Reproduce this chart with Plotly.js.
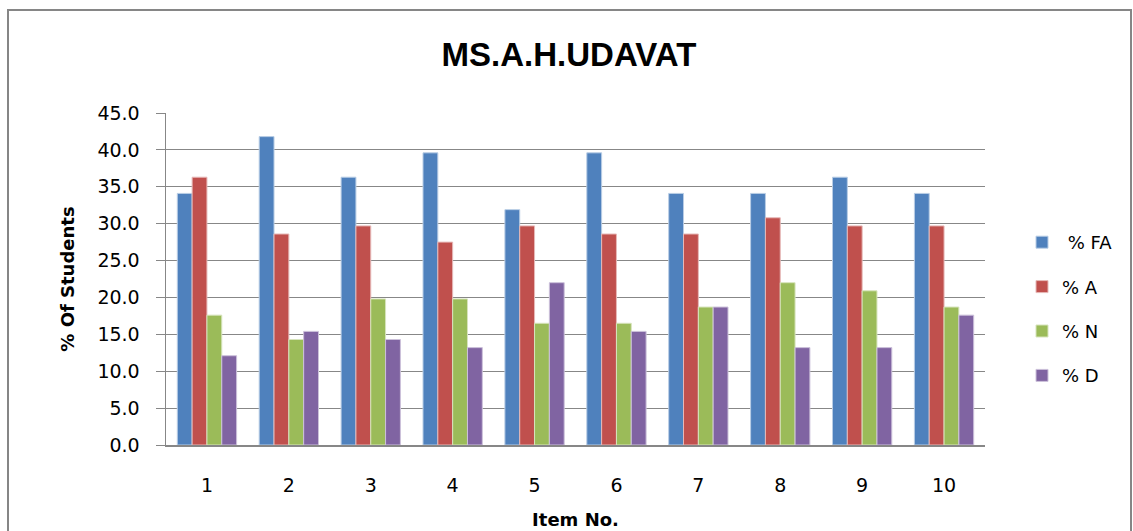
<!DOCTYPE html>
<html>
<head>
<meta charset="utf-8">
<script src="https://cdn.plot.ly/plotly-3.0.1.min.js"></script>
<style>
  html, body { margin: 0; padding: 0; background: #ffffff; }
  #chart { width: 1133px; height: 531px; }
</style>
</head>
<body>
<div id="chart"></div>
<script>
const items = ['1', '2', '3', '4', '5', '6', '7', '8', '9', '10'];
const pctFA = [34.1, 41.8, 36.3, 39.6, 31.9, 39.6, 34.1, 34.1, 36.3, 34.1];
const pctA  = [36.3, 28.6, 29.7, 27.5, 29.7, 28.6, 28.6, 30.8, 29.7, 29.7];
const pctN  = [17.6, 14.3, 19.8, 19.8, 16.5, 16.5, 18.7, 22.0, 20.9, 18.7];
const pctD  = [12.1, 15.4, 14.3, 13.2, 22.0, 15.4, 18.7, 13.2, 13.2, 17.6];
const seriesNames = ['\u00a0% FA', '% A', '% N', '% D'];
const yTickVals = [0, 5, 10, 15, 20, 25, 30, 35, 40, 45];

const colors = ['#4F81BD', '#C0504D', '#9BBB59', '#8064A2'];
const edges = ['#B9CDE5', '#E6B9B8', '#D7E4BD', '#CCC1DA'];
const values = [pctFA, pctA, pctN, pctD];

const font = 'DejaVu Sans, Liberation Sans, Arial, sans-serif';
const titleFont = 'Liberation Sans, Arial, sans-serif';

const traces = values.map((v, i) => ({
  type: 'bar',
  x: items,
  y: v,
  name: seriesNames[i],
  legendgroup: 'g' + i,
  marker: { color: colors[i], line: { color: edges[i], width: 1 } },
  hoverinfo: 'x+y+name'
}));

// plot area: x 166..985, y 113..445
const pw = 819, ph = 332, pl = 166, pt = 113;
const px = v => (v - pl) / pw;
const py = v => (pt + ph - v) / ph;

const layout = {
  width: 1133,
  height: 531,
  margin: { l: 166, r: 148, t: 113, b: 86 },
  paper_bgcolor: '#ffffff',
  plot_bgcolor: '#ffffff',
  font: { family: font, size: 18, color: '#000000' },
  title: {
    text: '<b>MS.A.H.UDAVAT</b>',
    font: { family: titleFont, size: 33, color: '#000000' },
    x: 569 / 1133, xref: 'container', xanchor: 'center',
    y: 1 - 54 / 531, yref: 'container', yanchor: 'middle'
  },
  barmode: 'group',
  bargap: 0.276,
  bargroupgap: 0,
  xaxis: {
    type: 'category',
    showgrid: false,
    showline: true,
    linecolor: '#878787',
    linewidth: 1.5,
    ticks: '',
    ticklabelstandoff: 23,
    tickfont: { family: font, size: 19, color: '#000000' },
    title: { text: '<b>Item No.</b>', font: { family: font, size: 18, color: '#000000' }, standoff: 18 }
  },
  yaxis: {
    range: [0, 45],
    tickvals: yTickVals,
    tickformat: '.1f',
    showgrid: true,
    gridcolor: '#878787',
    gridwidth: 1,
    showline: true,
    linecolor: '#878787',
    linewidth: 1.5,
    ticks: 'outside',
    ticklen: 9,
    tickcolor: '#878787',
    ticklabelstandoff: 12,
    zeroline: false,
    tickfont: { family: font, size: 19, color: '#000000' },
    title: { text: '<b>% Of Students</b>', font: { family: font, size: 18, color: '#000000' }, standoff: 18 }
  },
  legend: {
    x: px(1022), xanchor: 'left',
    y: py(224), yanchor: 'top',
    font: { family: font, size: 18, color: '#000000' },
    tracegroupgap: 18,
    itemwidth: 30,
    bgcolor: 'rgba(0,0,0,0)'
  },
  shapes: [{
    type: 'rect', xref: 'paper', yref: 'paper',
    x0: px(8), x1: px(1131), y0: py(560), y1: py(10),
    line: { color: '#868686', width: 2 }, fillcolor: 'rgba(0,0,0,0)', layer: 'below'
  }],
  showlegend: true
};

Plotly.newPlot('chart', traces, layout, { displayModeBar: false, staticPlot: true });
</script>
</body>
</html>
